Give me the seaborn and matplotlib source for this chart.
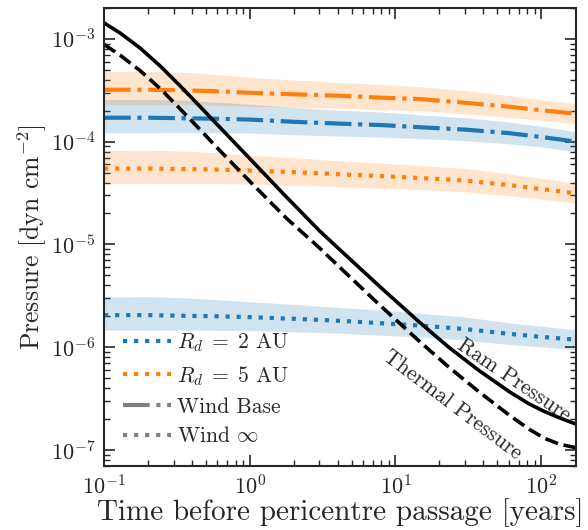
import numpy as np
import pandas as pd
import matplotlib
matplotlib.use("Agg")
import matplotlib.pyplot as plt
from matplotlib.lines import Line2D
import seaborn as sns

# time before pericentre passage [years]
t_gas = [0.1, 0.129, 0.176, 0.242, 0.332, 0.455, 0.623, 1.05, 1.79, 3.02,
         4.13, 7.77, 14.6, 23.4, 37.6, 60.4, 82.8, 105, 133, 174]
ram_p = [1.43e-3, 1.14e-3, 8.18e-4, 5.47e-4, 3.50e-4, 2.20e-4, 1.38e-4, 6.36e-5,
         2.88e-5, 1.35e-5, 8.93e-6, 3.91e-6, 1.75e-6, 9.89e-7, 5.90e-7, 3.69e-7,
         2.80e-7, 2.37e-7, 2.06e-7, 1.78e-7]
thermal_p = [8.84e-4, 6.93e-4, 4.93e-4, 3.30e-4, 2.09e-4, 1.31e-4, 8.19e-5, 3.83e-5,
             1.79e-5, 9.20e-6, 6.02e-6, 2.58e-6, 1.14e-6, 6.34e-7, 3.66e-7, 2.18e-7,
             1.59e-7, 1.30e-7, 1.14e-7, 1.05e-7]

# wind pressure for the two disc radii
t_wind = [0.1, 0.2, 0.35, 0.6, 1, 2, 4, 8, 15, 30, 60, 100, 175]
base_5au = [3.20e-4, 3.20e-4, 3.16e-4, 3.09e-4, 2.99e-4, 2.89e-4, 2.80e-4,
            2.68e-4, 2.59e-4, 2.39e-4, 2.19e-4, 2.02e-4, 1.87e-4]
base_2au = [1.71e-4, 1.71e-4, 1.69e-4, 1.67e-4, 1.64e-4, 1.56e-4, 1.50e-4,
            1.45e-4, 1.38e-4, 1.31e-4, 1.21e-4, 1.11e-4, 1.00e-4]
inf_5au = [5.47e-5, 5.47e-5, 5.41e-5, 5.35e-5, 5.23e-5, 5.05e-5, 4.83e-5,
           4.62e-5, 4.42e-5, 4.18e-5, 3.78e-5, 3.46e-5, 3.13e-5]
inf_2au = [2.05e-6, 2.05e-6, 2.02e-6, 2.00e-6, 1.96e-6, 1.89e-6, 1.81e-6,
           1.71e-6, 1.62e-6, 1.50e-6, 1.35e-6, 1.26e-6, 1.18e-6]
# spread of the shaded bands (multiplicative, above / below)
spread_up = [1.50, 1.51, 1.50, 1.45, 1.41, 1.38, 1.35, 1.34, 1.32, 1.31, 1.28, 1.27, 1.25]
spread_down = [1.40, 1.40, 1.38, 1.37, 1.35, 1.34, 1.32, 1.31, 1.29, 1.28, 1.27, 1.25, 1.25]

sns.set_style("ticks")
plt.rcParams['font.family'] = 'serif'
plt.rcParams['font.serif'] = ['cmr10']
plt.rcParams['mathtext.fontset'] = 'cm'
plt.rcParams['axes.formatter.use_mathtext'] = True
plt.rcParams['axes.unicode_minus'] = False

blue = '#1f77b4'
orange = '#ff7f0e'

fig = plt.figure(figsize=(5.88, 5.30), dpi=100)
ax = fig.add_axes([0.177, 0.121, 0.803, 0.864])
ax.set(xscale='log', yscale='log')

gas = pd.DataFrame({'t': t_gas, 'ram': ram_p, 'thermal': thermal_p})
wind = pd.DataFrame({'t': t_wind, 'base5': base_5au, 'base2': base_2au,
                     'inf5': inf_5au, 'inf2': inf_2au})
up = np.array(spread_up)
down = np.array(spread_down)

for col, c, ls in [('base5', orange, '-.'), ('base2', blue, '-.'),
                   ('inf5', orange, ':'), ('inf2', blue, ':')]:
    v = wind[col].to_numpy()
    ax.fill_between(wind['t'], v / down, v * up, color=c, alpha=0.2, lw=0)
    sns.lineplot(data=wind, x='t', y=col, ax=ax, color=c, linestyle=ls, lw=3)

sns.lineplot(data=gas, x='t', y='ram', ax=ax, color='k', lw=2.6)
sns.lineplot(data=gas, x='t', y='thermal', ax=ax, color='k', lw=2.6, linestyle='--')

ax.set_xlim(0.1, 174)
ax.set_ylim(7e-8, 2e-3)
ax.set_xlabel('Time before pericentre passage [years]', fontsize=21, labelpad=0)
ax.set_ylabel('Pressure [dyn cm$^{-2}$]', fontsize=18.5, labelpad=1)

ax.tick_params(which='both', direction='in', top=True, right=True, labelsize=16)
ax.tick_params(which='major', length=8, width=1.2, pad=6)
ax.tick_params(which='minor', length=4.5, width=1.0)
for s in ax.spines.values():
    s.set_linewidth(1.5)

ax.text(65, 4.8e-7, 'Ram Pressure', rotation=-34, ha='center', va='center', fontsize=15.5)
ax.text(24.5, 2.74e-7, 'Thermal Pressure', rotation=-37, ha='center', va='center', fontsize=15.5)

handles = [Line2D([], [], color=blue, ls=':', lw=3),
           Line2D([], [], color=orange, ls=':', lw=3),
           Line2D([], [], color='gray', ls='-.', lw=3),
           Line2D([], [], color='gray', ls=':', lw=3)]
labels = [r'$R_d \;=\; 2$ AU', r'$R_d \;=\; 5$ AU', 'Wind Base', r'Wind $\infty$']
ax.legend(handles, labels, loc='lower left', frameon=False, fontsize=15.5,
          handlelength=2.2, handletextpad=0.3, labelspacing=0.45,
          borderaxespad=0.5)

fig.savefig('out.png', dpi=100)
